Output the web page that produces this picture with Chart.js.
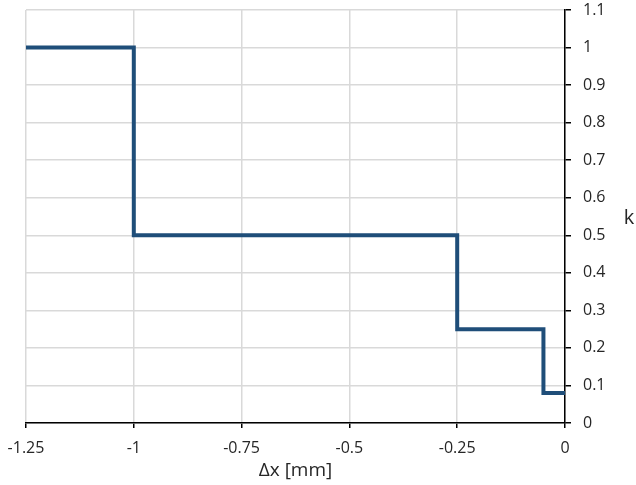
<!DOCTYPE html>
<html>
<head>
<meta charset="utf-8">
<script src="https://cdn.jsdelivr.net/npm/chart.js@4.4.1/dist/chart.umd.min.js"></script>
<style>
  html, body { margin: 0; padding: 0; background: #ffffff; }
  #wrap { width: 636px; height: 485px; }
</style>
</head>
<body>
<div id="wrap"><canvas id="c" width="636" height="485"></canvas></div>
<script>
// Step profile of k against the offset Δx
const breakX = [-1.25, -1, -0.25, -0.05, 0];
const kValues = [1, 0.5, 0.25, 0.08, 0.08];
const xTicks = [-1.25, -1, -0.75, -0.5, -0.25, 0];
const yTicks = [0, 0.1, 0.2, 0.3, 0.4, 0.5, 0.6, 0.7, 0.8, 0.9, 1, 1.1];
const xTitle = 'Δx [mm]';
const yTitle = 'k';

const FONT = '"Open Sans", "DejaVu Sans", sans-serif';
const points = breakX.map((x, i) => ({ x: x, y: kValues[i] }));

// upright axis label to the right of the value axis
const sideTitle = {
  id: 'sideTitle',
  afterDraw(chart) {
    const ctx = chart.ctx;
    const area = chart.chartArea;
    ctx.save();
    ctx.font = '20px ' + FONT;
    ctx.fillStyle = '#262626';
    ctx.textAlign = 'center';
    ctx.textBaseline = 'middle';
    ctx.fillText(yTitle, 629, (area.top + area.bottom) / 2 + 2);
    ctx.restore();
  }
};

new Chart(document.getElementById('c'), {
  type: 'line',
  data: {
    datasets: [{
      data: points,
      stepped: true,
      borderColor: '#1f4e79',
      borderWidth: 4,
      pointRadius: 0,
      fill: false,
      clip: 4
    }]
  },
  options: {
    responsive: false,
    animation: false,
    layout: { padding: { left: 26, top: 10, right: 0, bottom: 0 } },
    plugins: { legend: { display: false }, tooltip: { enabled: false } },
    scales: {
      x: {
        type: 'linear',
        min: -1.25,
        max: 0,
        afterBuildTicks(s) { s.ticks = xTicks.map(v => ({ value: v })); },
        afterFit(s) { s.height = 62; s.paddingLeft = 0; s.paddingRight = 0; },
        grid: { color: '#d9d9d9', lineWidth: 1.5, tickColor: '#000000', tickLength: 5, drawTicks: true },
        border: { color: '#000000', width: 1.5 },
        ticks: {
          color: '#262626',
          font: { family: FONT, size: 16 },
          padding: 11,
          maxRotation: 0,
          callback: v => String(v)
        },
        title: {
          display: true,
          text: xTitle,
          color: '#262626',
          font: { family: FONT, size: 19 },
          padding: { top: 0, bottom: 3 }
        }
      },
      y: {
        type: 'linear',
        position: 'right',
        min: 0,
        max: 1.1,
        afterBuildTicks(s) { s.ticks = yTicks.map(v => ({ value: v })); },
        afterFit(s) { s.width = 71; s.paddingTop = 0; s.paddingBottom = 0; },
        grid: { color: '#d9d9d9', lineWidth: 1.5, tickColor: '#000000', tickLength: 6, drawTicks: true },
        border: { color: '#000000', width: 1.5 },
        ticks: {
          color: '#262626',
          font: { family: FONT, size: 16 },
          padding: 12,
          callback: v => String(Number(v.toFixed(2)))
        }
      }
    }
  },
  plugins: [sideTitle]
});
</script>
</body>
</html>
